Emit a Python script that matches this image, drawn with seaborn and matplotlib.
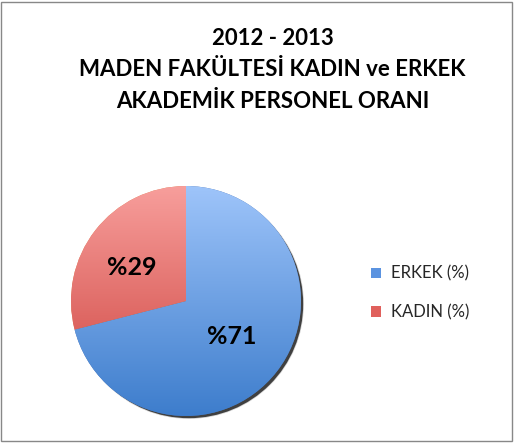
import numpy as np
import matplotlib
matplotlib.use("Agg")
import matplotlib.pyplot as plt
import seaborn as sns
from matplotlib.patches import Rectangle, Circle, Patch

sns.set_theme(style="white")
plt.rcParams['font.family'] = ['Lato', 'DejaVu Sans']

categories = ["ERKEK (%)", "KADIN (%)"]
values = [71, 29]
labels = ["%71", "%29"]
title = "2012 - 2013\nMADEN FAKÜLTESİ KADIN ve ERKEK\nAKADEMİK PERSONEL ORANI"

top_colors = [(0.62, 0.77, 0.98), (0.97, 0.62, 0.61)]
bot_colors = [(0.24, 0.49, 0.80), (0.80, 0.25, 0.23)]
legend_colors = ["#5b93e0", "#e0605c"]

W, H = 514, 443
fig = plt.figure(figsize=(W / 100, H / 100), dpi=100)
fig.patch.set_facecolor("white")
fig.patches.append(Rectangle((1 / W, 2 / H), (W - 3) / W, (H - 4) / H, transform=fig.transFigure,
                             fill=False, edgecolor="#888888", linewidth=1.0))

cx, cy, r = 186, H - 301, 115
ax = fig.add_axes([(cx - r) / W, (cy - r) / H, 2 * r / W, 2 * r / H])

# shadow
sh = Circle((0.025, -0.025), 1.0, facecolor="black", alpha=0.75, zorder=0)
sh.set_clip_on(False)
ax.add_patch(sh)

wedges, _ = ax.pie(values, startangle=90, counterclock=False, radius=1.0,
                   wedgeprops=dict(linewidth=0))
for w, tc, bc in zip(wedges, top_colors, bot_colors):
    t = np.linspace(0, 1, 256)[:, None]
    grad = np.zeros((256, 2, 3))
    for k in range(3):
        grad[:, :, k] = tc[k] + (bc[k] - tc[k]) * t
    im = ax.imshow(grad, extent=(-1, 1, -1, 1), origin="upper", aspect="auto", zorder=2)
    im.set_clip_path(w)

# labels
ang = np.cumsum([0] + values)
for i, lab in enumerate(labels):
    mid = 90 - (ang[i] + ang[i + 1]) / 2 * 3.6
    rr = 0.5 if i == 0 else 0.6
    x, y = rr * np.cos(np.radians(mid)), rr * np.sin(np.radians(mid))
    if i == 1:
        y -= 0.08
    ax.text(x, y, lab, ha="center", va="center", fontsize=18, fontweight="bold",
            color="black", zorder=5)

ax.set_xlim(-1.0, 1.0)
ax.set_ylim(-1.0, 1.0)
ax.set_aspect("equal")
ax.axis("off")

fig.text(0.530, 1 - 70 / H, title, ha="center", va="center", fontsize=16, fontweight="bold",
         linespacing=1.62, color="black")

handles = [Patch(facecolor=c, edgecolor="none") for c in legend_colors]
fig.legend(handles, categories, loc="center left", bbox_to_anchor=(356 / W, 1 - 293 / H),
           frameon=False, fontsize=12, handlelength=0.6, handleheight=0.6,
           handletextpad=0.6, labelspacing=1.35)

fig.savefig("out.png", dpi=100)
